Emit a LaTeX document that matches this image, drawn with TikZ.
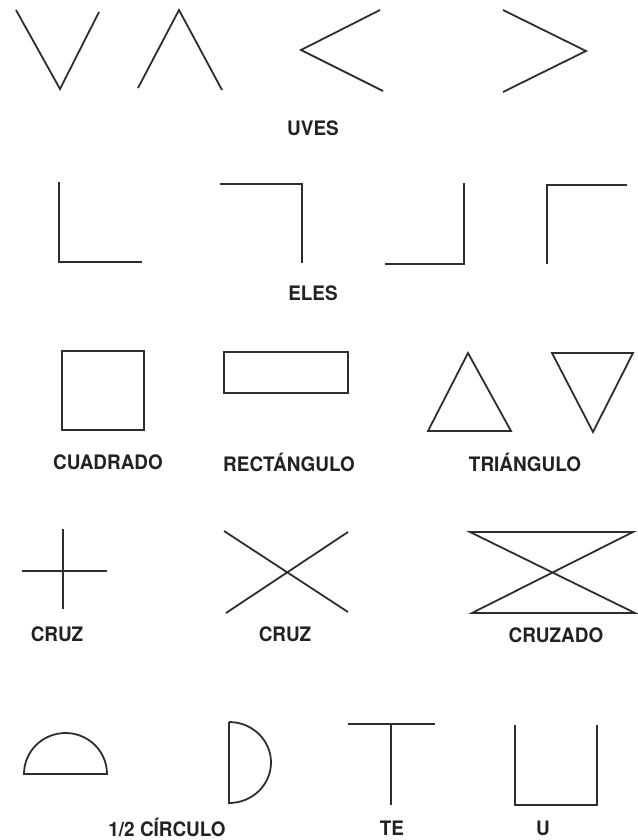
\documentclass[tikz,border=0pt]{standalone}
\usepackage{fontspec}
\setmainfont{TeX Gyre Heros}
\usetikzlibrary{positioning}
\definecolor{cink}{HTML}{2E2E2E}
\definecolor{ctext}{HTML}{222222}
\tikzset{
  shp/.style={draw=cink,line width=1.8bp,line join=miter},
  lbl/.style={font=\fontsize{20}{20}\selectfont\bfseries,text=ctext,inner sep=0pt,xscale=0.95}
}

\begin{document}
\begin{tikzpicture}[x=1bp,y=-1bp]
    \useasboundingbox (0,0) rectangle (638,840);
    \draw[shp] (16,10) -- (60,89) -- (99,12);
    \draw[shp] (138,88) -- (179,10) -- (222,90);
    \draw[shp] (380,10) -- (301,50) -- (383,91);
    \draw[shp] (503,10) -- (586,51) -- (503,92);
    \node[lbl] (uves) at (313,128) {UVES};
    \draw[shp] (59,182) -- (59,262) -- (142,262);
    \draw[shp] (220,184) -- (302,184) -- (302,263);
    \draw[shp] (464,183) -- (464,264) -- (385,264);
    \draw[shp] (547,264) -- (547,185) -- (627,185);
    \node[lbl] (eles) at (313,293) {ELES};
    \draw[shp] (62,351) rectangle (144,430);
    \draw[shp] (224,352) rectangle (348,393);
    \draw[shp] (468,353) -- (511,431) -- (428,431) -- cycle;
    \draw[shp] (552,353) -- (633,353) -- (593,432) -- cycle;
    \node[lbl] (cuad) at (108,462) {CUADRADO};
    \node[lbl] (rect) at (289,462) {RECTÁNGULO};
    \node[lbl] (tria) at (525,462) {TRIÁNGULO};
    \draw[shp] (63,529) -- (63,609) (22,571) -- (107,571);
    \draw[shp] (224,531) -- (348,612) (348,532) -- (226,613);
    \draw[shp] (470,532) -- (633,532) -- (472,613) -- (635,613) -- cycle;
    \node[lbl] (cruzA) at (57,634) {CRUZ};
    \node[lbl] (cruzB) at (285,634) {CRUZ};
    \node[lbl] (cruzado) at (556,635) {CRUZADO};
    \draw[shp] (24,774) arc[start angle=180,end angle=360,x radius=41.5,y radius=41] -- cycle;
    \draw[shp] (229,722) -- (229,803) arc[start angle=90,end angle=-90,x radius=42,y radius=40.5];
    \draw[shp] (348,724) -- (435,724) (391,724) -- (391,805);
    \draw[shp] (515,725) -- (515,805) -- (597,805) -- (597,725);
    \node[lbl] (medio) at (167,827) {1/2 CÍRCULO};
    \node[lbl] (te) at (392,828) {TE};
    \node[lbl] (u) at (543,828) {U};
\end{tikzpicture}
\end{document}
